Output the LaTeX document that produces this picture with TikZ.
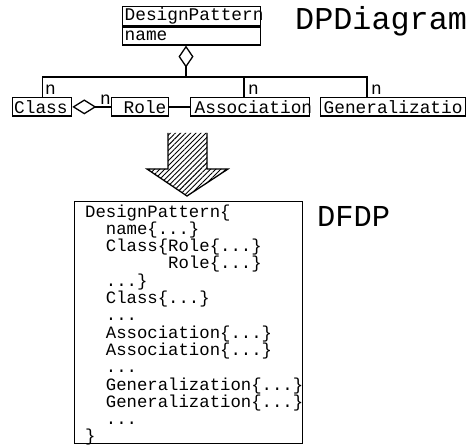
\documentclass[tikz,border=0pt]{standalone}
\usepackage{fontspec}
\setmonofont{Liberation Mono}
\usetikzlibrary{arrows.meta,patterns.meta}
% left-aligned box text that may run past the box edge
\newcommand\umltext[3]{\makebox[#1][l]{\hspace*{#2}#3}}
\begin{document}
\begin{tikzpicture}[x=1pt,y=-1pt,
  umlfont/.style={font=\fontsize{17.8}{20}\selectfont\ttfamily},
  umlbox/.style={draw,line width=1.3pt,umlfont,inner sep=0pt,minimum height=18.5pt,anchor=north west},
  mult/.style={umlfont,inner sep=0pt,anchor=base west},
  link/.style={line width=1.3pt},
  aggdp/.style={link,{Diamond[open,length=22pt,width=15pt]}-},
  aggcr/.style={link,{Diamond[open,length=24pt,width=15pt]}-},
  title/.style={inner sep=0pt,anchor=base west},
]
\useasboundingbox (0,0) rectangle (475,446);

% class diagram
\node[umlbox,minimum height=19pt] (dp) at (122,6) {\umltext{138pt}{2pt}{DesignPattern}};
\node[umlbox,minimum height=18pt] (dpname) at (dp.south west) {\umltext{138pt}{2pt}{name}};
\node[umlbox] (class) at (12,97) {\umltext{59pt}{1.5pt}{Class}};
\node[umlbox] (role) at (111,97) {\umltext{57pt}{12pt}{Role}};
\node[umlbox] (assoc) at (190,97) {\umltext{119pt}{4pt}{Association}};
\node[umlbox] (gen) at (320,97) {\umltext{145pt}{3pt}{Generalizatio}};

\coordinate (bus) at (186,77);
\coordinate (ba) at (244,77);
\coordinate (bg) at (367,77);
\draw[aggdp] (dpname.south -| bus) -- (bus);
\draw[link] (class.north) |- (bg) -- (gen.north -| bg);
\draw[link] (ba) -- (assoc.north -| ba);
\draw[aggcr] (class.east) -- (role.west);
\draw[link] (role.east) -- (assoc.west);

\node[mult] (nclass) at (45,95) {n};
\node[mult] (nassoc) at (248,95) {n};
\node[mult] (ngen) at (371,95) {n};
\node[mult] (nrole) at (100,105) {n};

\node[title,font=\fontsize{31.8}{32}\selectfont\ttfamily] (dpdiagram) at (295,30) {DPDiagram};

% transformation arrow
\fill[pattern={Lines[angle=45,distance=3.6pt,line width=0.9pt]}]
  (168,133) -- (168,169) -- (147,169) -- (187,196) -- (228,169) -- (207,169) -- (207,133) -- cycle;
\draw[link] (168,133) -- (168,169) -- (147,169) -- (187,196) -- (228,169) -- (207,169) -- (207,133);

% textual form
\node[draw,line width=1.3pt,minimum width=228pt,minimum height=242pt,inner sep=0pt,anchor=north west] (dfdpbox) at (74,201) {};
\node[inner sep=0pt,anchor=base west,align=left,font=\fontsize{17.3}{17.3}\selectfont\ttfamily] (listing) at (85,442) {%
DesignPattern\{\\
\hspace*{1.2em}name\{...\}\\
\hspace*{1.2em}Class\{Role\{...\}\\
\hspace*{4.8em}Role\{...\}\\
\hspace*{1.2em}...\}\\
\hspace*{1.2em}Class\{...\}\\
\hspace*{1.2em}...\\
\hspace*{1.2em}Association\{...\}\\
\hspace*{1.2em}Association\{...\}\\
\hspace*{1.2em}...\\
\hspace*{1.2em}Generalization\{...\}\\
\hspace*{1.2em}Generalization\{...\}\\
\hspace*{1.2em}...\\
\}};
\node[title,font=\fontsize{30.4}{31}\selectfont\ttfamily] (dfdp) at (317,227) {DFDP};
\end{tikzpicture}
\end{document}
